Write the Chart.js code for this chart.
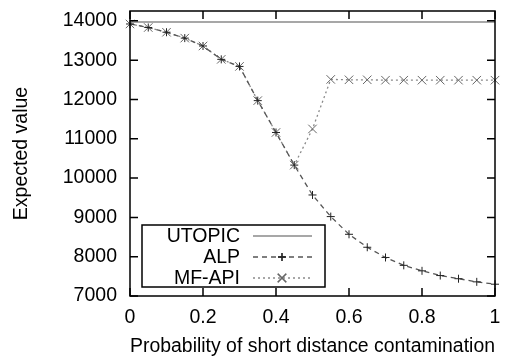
<!DOCTYPE html>
<html>
<head>
<meta charset="utf-8">
<script src="https://cdn.jsdelivr.net/npm/chart.js@4/dist/chart.umd.min.js"></script>
<style>
  html, body { margin: 0; padding: 0; background: #fff; }
  #wrap { width: 508px; height: 360px; }
</style>
</head>
<body>
<div id="wrap"><canvas id="chart" width="508" height="360"></canvas></div>
<script>
// probability steps
var probs = [0, 0.05, 0.1, 0.15, 0.2, 0.25, 0.3, 0.35, 0.4, 0.45, 0.5,
             0.55, 0.6, 0.65, 0.7, 0.75, 0.8, 0.85, 0.9, 0.95, 1];
var alpValues = [13920, 13830, 13710, 13560, 13360, 13020, 12840, 11970, 11160, 10330, 9570,
                 9020, 8570, 8240, 7980, 7780, 7640, 7520, 7440, 7360, 7300];
var mfapiValues = [13920, 13830, 13710, 13560, 13360, 13020, 12840, 11970, 11160, 10330, 11250,
                   12510, 12500, 12500, 12490, 12490, 12490, 12490, 12490, 12490, 12490];
var utopicX = [0, 1];
var utopicValues = [13970, 13970];
var xTicks = [0, 0.2, 0.4, 0.6, 0.8, 1];
var yTicks = [7000, 8000, 9000, 10000, 11000, 12000, 13000, 14000];

function pts(xs, ys) {
    return xs.map(function(x, i) { return { x: x, y: ys[i] }; });
}

var FONT = { family: '"Liberation Sans", Arial, sans-serif', size: 19.5 };

// gnuplot style frame with inward ticks on all four sides
var framePlugin = {
    id: 'frame',
    afterDatasetsDraw: function(chart) {
        var ctx = chart.ctx, a = chart.chartArea;
        var xs = chart.scales.x, ys = chart.scales.y;
        ctx.save();
        ctx.strokeStyle = '#000';
        ctx.lineWidth = 1.5;
        ctx.strokeRect(a.left, a.top, a.right - a.left, a.bottom - a.top);
        ctx.beginPath();
        xTicks.forEach(function(v) {
            var px = xs.getPixelForValue(v);
            ctx.moveTo(px, a.bottom); ctx.lineTo(px, a.bottom - 8);
            ctx.moveTo(px, a.top); ctx.lineTo(px, a.top + 8);
        });
        yTicks.forEach(function(v) {
            var py = ys.getPixelForValue(v);
            ctx.moveTo(a.left, py); ctx.lineTo(a.left + 8, py);
            ctx.moveTo(a.right, py); ctx.lineTo(a.right - 8, py);
        });
        ctx.stroke();
        ctx.restore();
    }
};

// key box in the lower left, text right-aligned before the sample
var keyPlugin = {
    id: 'key',
    afterDraw: function(chart) {
        var ctx = chart.ctx;
        var box = { l: 142, t: 225, r: 325, b: 287 };
        ctx.save();
        ctx.fillStyle = '#fff';
        ctx.fillRect(box.l, box.t, box.r - box.l, box.b - box.t);
        ctx.strokeStyle = '#000';
        ctx.lineWidth = 1.5;
        ctx.strokeRect(box.l, box.t, box.r - box.l, box.b - box.t);
        ctx.font = FONT.size + 'px ' + FONT.family;
        ctx.textAlign = 'right';
        ctx.textBaseline = 'middle';
        chart.data.datasets.forEach(function(ds, i) {
            var y = 236 + i * 21;
            ctx.fillStyle = '#000';
            ctx.fillText(ds.label, 240, y + 1);
            ctx.strokeStyle = ds.borderColor;
            ctx.lineWidth = ds.borderWidth;
            ctx.setLineDash(ds.borderDash || []);
            ctx.beginPath();
            ctx.moveTo(253, y); ctx.lineTo(312, y);
            ctx.stroke();
            ctx.setLineDash([]);
            if (ds.pointRadius > 0) {
                Chart.helpers.drawPoint(ctx, {
                    pointStyle: ds.pointStyle, radius: ds.pointRadius,
                    borderWidth: 1, rotation: 0
                }, 282, y);
                ctx.strokeStyle = ds.pointBorderColor;
                ctx.stroke();
            }
        });
        ctx.restore();
    }
};

new Chart(document.getElementById('chart').getContext('2d'), {
    type: 'line',
    data: {
        datasets: [{
            label: 'UTOPIC',
            data: pts(utopicX, utopicValues),
            borderColor: '#8a8a8a',
            borderWidth: 1.5,
            pointRadius: 0,
            clip: false
        }, {
            label: 'ALP',
            data: pts(probs, alpValues),
            borderColor: '#555',
            borderWidth: 1.3,
            borderDash: [5, 4],
            pointStyle: 'cross',
            pointRadius: 4,
            pointBorderColor: '#222',
            pointBorderWidth: 1,
            clip: false
        }, {
            label: 'MF-API',
            data: pts(probs, mfapiValues),
            borderColor: '#8a8a8a',
            borderWidth: 1.3,
            borderDash: [2, 3],
            pointStyle: 'crossRot',
            pointRadius: 6,
            pointBorderColor: '#666',
            pointBorderWidth: 1,
            clip: false
        }]
    },
    options: {
        responsive: false,
        animation: false,
        layout: { padding: { left: 0, right: 13, top: 11, bottom: 0 } },
        plugins: { legend: { display: false }, tooltip: { enabled: false } },
        elements: { line: { tension: 0 } },
        scales: {
            x: {
                type: 'linear',
                min: 0, max: 1,
                afterFit: function(s) { s.height = 64; s.paddingLeft = 0; s.paddingRight = 0; },
                afterBuildTicks: function(s) { s.ticks = xTicks.map(function(v) { return { value: v }; }); },
                grid: { display: false, drawTicks: false },
                border: { display: false },
                ticks: { color: '#000', font: FONT, padding: 10, maxRotation: 0,
                         callback: function(v) { return String(v); } },
                title: { display: true, text: 'Probability of short distance contamination',
                         color: '#000', font: FONT, padding: { top: 0, bottom: 2 } }
            },
            y: {
                min: 7000, max: 14250,
                afterFit: function(s) { s.width = 130; s.paddingTop = 0; s.paddingBottom = 0; },
                afterBuildTicks: function(s) { s.ticks = yTicks.map(function(v) { return { value: v }; }); },
                grid: { display: false, drawTicks: false },
                border: { display: false },
                ticks: { color: '#000', font: FONT, padding: 13,
                         callback: function(v) { return String(v); } },
                title: { display: true, text: 'Expected value',
                         color: '#000', font: FONT, padding: { top: 10, bottom: 0 } }
            }
        }
    },
    plugins: [framePlugin, keyPlugin]
});
</script>
</body>
</html>
